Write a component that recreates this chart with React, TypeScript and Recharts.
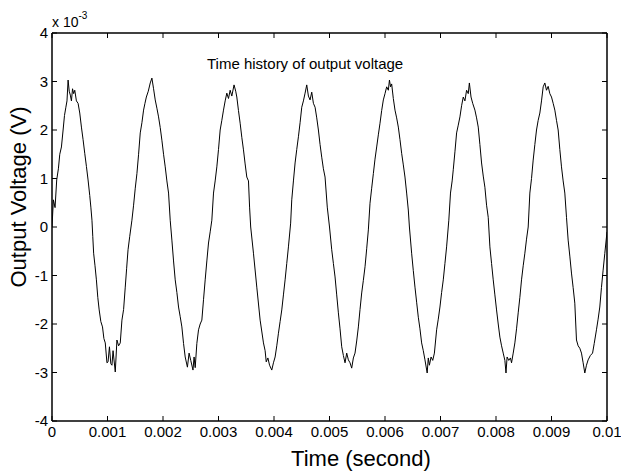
import { Line, LineChart, XAxis, YAxis } from "recharts";

// time in ms (axis shows seconds), voltage in units of 1e-3 V
const timeMs = [
  0, 0.025, 0.055, 0.085, 0.115, 0.14, 0.17, 0.2, 0.225, 0.25, 0.27, 0.29, 0.31, 0.33, 0.35, 0.37, 0.39, 0.41, 0.44, 0.47,
  0.5, 0.53, 0.56, 0.59, 0.62, 0.65, 0.68, 0.7, 0.72, 0.735, 0.75, 0.775, 0.8, 0.825, 0.85, 0.88, 0.91, 0.935, 0.96, 0.99,
  1.01, 1.035, 1.06, 1.08, 1.1, 1.14, 1.17, 1.2, 1.23, 1.26, 1.29, 1.32, 1.345, 1.37, 1.4, 1.44, 1.47, 1.5, 1.53, 1.56,
  1.59, 1.62, 1.65, 1.675, 1.7, 1.735, 1.77, 1.8, 1.83, 1.86, 1.89, 1.92, 1.95, 1.98, 2.01, 2.04, 2.07, 2.1, 2.13, 2.16,
  2.19, 2.22, 2.25, 2.28, 2.31, 2.34, 2.37, 2.4, 2.44, 2.47, 2.5, 2.54, 2.56, 2.58, 2.61, 2.64, 2.67, 2.7, 2.73, 2.76,
  2.79, 2.82, 2.85, 2.88, 2.91, 2.94, 2.97, 3.0, 3.03, 3.06, 3.09, 3.12, 3.15, 3.18, 3.21, 3.24, 3.28, 3.31, 3.33, 3.36,
  3.39, 3.42, 3.45, 3.48, 3.51, 3.54, 3.56, 3.58, 3.63, 3.69, 3.75, 3.81, 3.84, 3.86, 3.89, 3.92, 3.96, 3.99, 4.02, 4.05,
  4.08, 4.11, 4.14, 4.17, 4.2, 4.23, 4.26, 4.3, 4.32, 4.35, 4.38, 4.41, 4.44, 4.47, 4.5, 4.53, 4.56, 4.59, 4.62, 4.65,
  4.68, 4.71, 4.74, 4.77, 4.8, 4.83, 4.86, 4.89, 4.92, 4.96, 5.0, 5.04, 5.07, 5.1, 5.13, 5.16, 5.19, 5.22, 5.25, 5.28,
  5.31, 5.34, 5.37, 5.4, 5.43, 5.46, 5.49, 5.52, 5.55, 5.58, 5.61, 5.64, 5.67, 5.7, 5.73, 5.76, 5.79, 5.82, 5.85, 5.88,
  5.91, 5.94, 5.97, 6.0, 6.03, 6.06, 6.08, 6.1, 6.12, 6.15, 6.18, 6.21, 6.24, 6.27, 6.3, 6.33, 6.36, 6.39, 6.42, 6.44,
  6.48, 6.51, 6.54, 6.57, 6.6, 6.63, 6.66, 6.69, 6.72, 6.76, 6.78, 6.8, 6.83, 6.86, 6.89, 6.93, 6.96, 6.99, 7.02, 7.05,
  7.08, 7.11, 7.15, 7.18, 7.21, 7.23, 7.26, 7.29, 7.32, 7.35, 7.38, 7.41, 7.44, 7.47, 7.5, 7.52, 7.55, 7.58, 7.62, 7.65,
  7.68, 7.71, 7.74, 7.77, 7.8, 7.83, 7.86, 7.89, 7.92, 7.95, 7.98, 8.01, 8.04, 8.07, 8.1, 8.13, 8.16, 8.18, 8.2, 8.23,
  8.26, 8.28, 8.31, 8.34, 8.37, 8.4, 8.43, 8.46, 8.49, 8.52, 8.55, 8.58, 8.61, 8.64, 8.67, 8.7, 8.73, 8.76, 8.79, 8.82,
  8.85, 8.88, 8.91, 8.94, 8.97, 9.0, 9.03, 9.06, 9.09, 9.12, 9.15, 9.18, 9.21, 9.24, 9.27, 9.3, 9.33, 9.36, 9.39, 9.42,
  9.45, 9.48, 9.51, 9.54, 9.57, 9.6, 9.63, 9.66, 9.7, 9.74, 9.77, 9.81, 9.84, 9.87, 9.9, 9.93, 9.96, 10.0,
];

const voltage = [
  0, 0.56, 0.4, 0.97, 1.2, 1.5, 1.65, 2.0, 2.3, 2.47, 2.6, 3.03, 2.8, 2.72, 2.6, 2.85, 2.75, 2.82, 2.6, 2.55,
  2.35, 2.06, 1.8, 1.52, 1.25, 0.97, 0.65, 0.41, 0.14, -0.2, -0.54, -0.8, -1.09, -1.45, -1.71, -1.95, -2.06, -2.3, -2.39, -2.8,
  -2.78, -2.47, -2.82, -2.85, -2.55, -2.99, -2.33, -2.45, -2.39, -1.92, -1.7, -1.24, -0.85, -0.47, -0.2, 0.14, 0.45, 0.8, 1.1, 1.5,
  1.94, 2.15, 2.41, 2.55, 2.68, 2.8, 2.97, 3.07, 2.85, 2.62, 2.45, 2.27, 2.05, 1.79, 1.5, 1.24, 0.95, 0.7, 0.14, -0.27,
  -0.7, -1.09, -1.35, -1.65, -1.85, -2.06, -2.4, -2.68, -2.89, -2.6, -2.75, -2.95, -2.68, -2.9, -2.4, -2.12, -2.0, -1.92, -1.5, -1.09,
  -0.7, -0.33, -0.1, 0.14, 0.7, 0.95, 1.24, 1.6, 2.0, 2.2, 2.41, 2.6, 2.76, 2.65, 2.82, 2.7, 2.93, 2.8, 2.68, 2.4,
  2.14, 1.85, 1.59, 1.3, 1.03, 0.95, 0.41, 0.0, -0.54, -1.24, -1.92, -2.39, -2.55, -2.78, -2.7, -2.85, -2.95, -2.8, -2.68, -2.45,
  -2.19, -1.95, -1.71, -1.4, -1.09, -0.75, -0.41, 0.08, 0.56, 0.95, 1.32, 1.6, 1.86, 2.15, 2.47, 2.6, 2.76, 2.93, 2.7, 2.62,
  2.78, 2.55, 2.47, 2.25, 2.0, 1.7, 1.44, 1.2, 1.03, 0.41, 0.0, -0.47, -0.75, -1.03, -1.4, -1.77, -2.1, -2.47, -2.65, -2.8,
  -2.6, -2.74, -2.8, -2.91, -2.7, -2.6, -2.35, -2.06, -1.7, -1.36, -1.1, -0.82, -0.45, -0.06, 0.49, 0.8, 1.1, 1.4, 1.65, 1.9,
  2.14, 2.4, 2.62, 2.75, 2.89, 2.82, 3.03, 2.89, 2.95, 2.65, 2.41, 2.25, 2.06, 1.8, 1.52, 1.28, 1.03, 0.7, 0.35, 0.0,
  -0.54, -0.9, -1.24, -1.55, -1.86, -2.1, -2.39, -2.55, -2.74, -3.01, -2.7, -2.85, -2.68, -2.75, -2.6, -2.12, -1.9, -1.65, -1.35, -1.09,
  -0.75, -0.41, 0.14, 0.7, 0.95, 1.18, 1.55, 1.94, 2.1, 2.27, 2.5, 2.68, 2.6, 2.82, 2.75, 2.97, 2.68, 2.55, 2.41, 2.25,
  2.06, 1.7, 1.32, 1.05, 0.82, 0.45, 0.2, -0.41, -0.75, -1.09, -1.4, -1.71, -2.0, -2.27, -2.45, -2.6, -2.75, -3.01, -2.68, -2.75,
  -2.7, -2.8, -2.6, -2.39, -2.1, -1.77, -1.45, -1.09, -0.8, -0.54, -0.25, 0.0, 0.7, 1.0, 1.38, 1.7, 2.0, 2.2, 2.35, 2.6,
  2.89, 2.97, 2.82, 2.9, 2.75, 2.68, 2.55, 2.41, 2.2, 2.0, 1.6, 1.24, 0.95, 0.7, 0.2, -0.27, -0.6, -0.95, -1.25, -1.57,
  -2.33, -2.45, -2.5, -2.6, -2.8, -3.01, -2.85, -2.74, -2.65, -2.6, -2.4, -2.12, -1.9, -1.65, -1.25, -0.89, -0.55, -0.1,
];

const xTicks = [0, 1, 2, 3, 4, 5, 6, 7, 8, 9, 10];
const xTickLabels = ["0", "0.001", "0.002", "0.003", "0.004", "0.005", "0.006", "0.007", "0.008", "0.009", "0.01"];
const yTicks = [-4, -3, -2, -1, 0, 1, 2, 3, 4];

const data = timeMs.map((t, i) => ({ t, v: voltage[i] }));

const font = "'Liberation Sans', Arial, Helvetica, sans-serif";
const axisLine = { stroke: "#000", strokeWidth: 1.5 };

const BottomTick = (props: any) => {
  const { x, y, payload } = props;
  return (
    <g>
      <line x1={x} y1={y} x2={x} y2={y - 5} stroke="#000" strokeWidth={1} />
      <text x={x} y={y + 16} textAnchor="middle" fontSize={15} fontFamily={font} fill="#000">
        {xTickLabels[xTicks.indexOf(payload.value)]}
      </text>
    </g>
  );
};

const TopTick = (props: any) => {
  const { x, y } = props;
  return <line x1={x} y1={y} x2={x} y2={y + 5} stroke="#000" strokeWidth={1} />;
};

const LeftTick = (props: any) => {
  const { x, y, payload } = props;
  return (
    <g>
      <line x1={x} y1={y} x2={x + 5} y2={y} stroke="#000" strokeWidth={1} />
      <text x={x - 4} y={y + 5} textAnchor="end" fontSize={15} fontFamily={font} fill="#000">
        {payload.value}
      </text>
    </g>
  );
};

const RightTick = (props: any) => {
  const { x, y } = props;
  return <line x1={x} y1={y} x2={x - 5} y2={y} stroke="#000" strokeWidth={1} />;
};

export default function App() {
  return (
    <div style={{ position: "absolute", left: 0, top: 0, width: 621, height: 473, background: "#fff", fontFamily: font }}>
      <LineChart width={621} height={473} data={data} margin={{ top: 0, right: 0, bottom: 0, left: 0 }}>
        <XAxis
          xAxisId="bottom"
          dataKey="t"
          type="number"
          domain={[0, 10]}
          ticks={xTicks}
          height={52}
          tickSize={0}
          tickMargin={0}
          tickLine={false}
          tick={<BottomTick />}
          axisLine={axisLine}
          interval={0}
          allowDataOverflow
        />
        <XAxis
          xAxisId="top"
          dataKey="t"
          orientation="top"
          type="number"
          domain={[0, 10]}
          ticks={xTicks}
          height={33}
          tickSize={0}
          tickMargin={0}
          tickLine={false}
          tick={<TopTick />}
          axisLine={axisLine}
          interval={0}
          allowDataOverflow
        />
        <YAxis
          yAxisId="left"
          type="number"
          domain={[-4, 4]}
          ticks={yTicks}
          width={52}
          tickSize={0}
          tickMargin={0}
          tickLine={false}
          tick={<LeftTick />}
          axisLine={axisLine}
          interval={0}
          allowDataOverflow
        />
        <YAxis
          yAxisId="right"
          orientation="right"
          type="number"
          domain={[-4, 4]}
          ticks={yTicks}
          width={14}
          tickSize={0}
          tickMargin={0}
          tickLine={false}
          tick={<RightTick />}
          axisLine={axisLine}
          interval={0}
          allowDataOverflow
        />
        <Line
          xAxisId="bottom"
          yAxisId="left"
          dataKey="v"
          type="linear"
          stroke="#000"
          strokeWidth={1}
          dot={false}
          isAnimationActive={false}
        />
        <Line
          xAxisId="top"
          yAxisId="right"
          dataKey="v"
          type="linear"
          stroke="none"
          dot={false}
          activeDot={false}
          isAnimationActive={false}
        />
      </LineChart>
      <div style={{ position: "absolute", left: 52, top: 14, fontSize: 14, lineHeight: "16px", color: "#000" }}>
        x 10<sup style={{ fontSize: 10, verticalAlign: "top", position: "relative", top: -6 }}>-3</sup>
      </div>
      <div style={{ position: "absolute", left: 207, top: 55, fontSize: 15, lineHeight: "18px", color: "#000", whiteSpace: "nowrap" }}>
        Time history of output voltage
      </div>
      <div style={{ position: "absolute", left: 0, width: 722, top: 446, fontSize: 22, lineHeight: "26px", textAlign: "center", color: "#000" }}>
        Time (second)
      </div>
      <div
        style={{
          position: "absolute",
          left: 19,
          top: 197,
          fontSize: 22,
          lineHeight: "26px",
          color: "#000",
          whiteSpace: "nowrap",
          transform: "translate(-50%, -50%) rotate(-90deg)",
        }}
      >
        Output Voltage (V)
      </div>
    </div>
  );
}
